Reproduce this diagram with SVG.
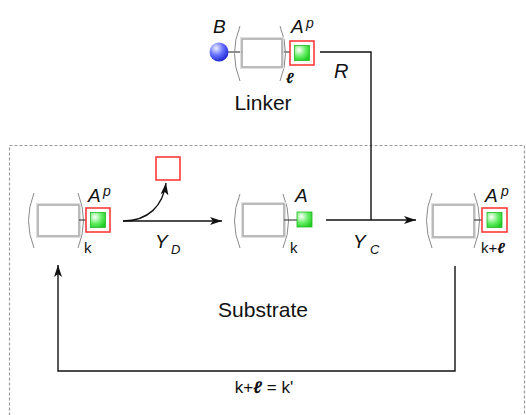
<svg xmlns="http://www.w3.org/2000/svg" width="526" height="415" viewBox="0 0 526 415">
<defs>
<radialGradient id="gg" cx="0.3" cy="0.3" r="0.8">
<stop offset="0" stop-color="#ffffff"/>
<stop offset="0.55" stop-color="#66ee66"/>
<stop offset="1" stop-color="#22cc22"/>
</radialGradient>
<radialGradient id="bg" cx="0.35" cy="0.3" r="0.75">
<stop offset="0" stop-color="#eef0ff"/>
<stop offset="0.5" stop-color="#6670ff"/>
<stop offset="1" stop-color="#1a22cc"/>
</radialGradient>
<marker id="ah" viewBox="0 0 12 8" refX="12" refY="4" markerWidth="12" markerHeight="8" markerUnits="userSpaceOnUse" orient="auto">
<path d="M0,0 L12,4 L0,8 L3,4 Z" fill="#111"/>
</marker>
<style>
.paren{fill:none;stroke:#8a8a8a;stroke-width:1}
.core{fill:#fff;stroke:#ababab;stroke-width:1.6}
.core2{fill:none;stroke:#dedede;stroke-width:1}
.bond{stroke:#444;stroke-width:1.2}
.green{fill:url(#gg);stroke:#22bb22;stroke-width:0.8}
.red{fill:#fff;stroke:#ff3a3a;stroke-width:1.6}
.ln{fill:none;stroke:#111;stroke-width:1.4}
.t{font-family:"Liberation Sans",Arial,sans-serif;fill:#111}
.it{font-style:italic}
</style>
</defs>
<rect x="9.5" y="145.5" width="515" height="280" fill="none" stroke="#9a9a9a" stroke-width="1.2" stroke-dasharray="3,2"/>

<g id="connectors">
<path class="ln" d="M320,52 H371 V220"/>
<path class="ln" d="M326,220 H416" marker-end="url(#ah)"/>
<path class="ln" d="M123,221 H222" marker-end="url(#ah)"/>
<path class="ln" d="M123,221 C148,221 163,206 166,183" marker-end="url(#ah)"/>
<path class="ln" d="M455,266 V371 H58 V265" marker-end="url(#ah)"/>
</g>

<g id="linker">
<line class="bond" x1="228" y1="52" x2="243" y2="52"/>
<line class="bond" x1="282" y1="52" x2="295" y2="52"/>
<circle cx="219" cy="52" r="9.5" fill="url(#bg)"/>
<path class="paren" d="M240,26 Q229,53.5 240,81"/>
<path class="paren" d="M280,26 Q291,53.5 280,81"/>
<rect class="core2" x="240.5" y="37.5" width="43" height="31"/>
<rect class="core" x="242" y="39" width="40" height="28"/>
<rect class="red" x="290" y="41" width="24" height="24"/>
<rect class="green" x="294.5" y="45.5" width="15" height="15"/>
<text class="t it" x="213" y="33" font-size="19">B</text>
<text class="t it" x="291" y="33" font-size="19">A</text>
<text class="t it" x="306" y="28" font-size="14">p</text>
<text class="t it" x="286" y="83" font-size="15" font-weight="bold">ℓ</text>
<text class="t" x="263" y="110" font-size="21" text-anchor="middle">Linker</text>
<text class="t it" x="334" y="78" font-size="20">R</text>
</g>

<g id="substrate-k-phos">
<path class="paren" d="M34,193 Q23,220.5 34,248"/>
<path class="paren" d="M78,193 Q89,220.5 78,248"/>
<rect class="core2" x="36.5" y="203.5" width="44" height="34"/>
<rect class="core" x="38" y="205" width="41" height="31"/>
<line class="bond" x1="79" y1="220" x2="91" y2="220"/>
<rect class="red" x="86" y="208" width="24" height="24"/>
<rect class="green" x="90.5" y="212.5" width="15" height="15"/>
<text class="t it" x="88" y="202" font-size="19">A</text>
<text class="t it" x="103" y="196" font-size="14">p</text>
<text class="t" x="84" y="253" font-size="15">k</text>
</g>

<g id="released-phosphate">
<rect class="red" x="156" y="157" width="24" height="23"/>
</g>

<g id="label-YD">
<text class="t it" x="155" y="248" font-size="19">Y</text>
<text class="t it" x="171" y="254" font-size="13">D</text>
</g>

<g id="substrate-k">
<path class="paren" d="M240,194 Q229,221 240,248"/>
<path class="paren" d="M283,194 Q294,221 283,248"/>
<rect class="core2" x="241.5" y="202.5" width="44" height="35"/>
<rect class="core" x="243" y="204" width="41" height="32"/>
<line class="bond" x1="284" y1="220" x2="297" y2="220"/>
<rect class="green" x="297" y="212" width="15" height="15"/>
<text class="t it" x="295" y="202" font-size="19">A</text>
<text class="t" x="290" y="253" font-size="15">k</text>
</g>

<g id="label-YC">
<text class="t it" x="353" y="248" font-size="19">Y</text>
<text class="t it" x="370" y="254" font-size="13">C</text>
</g>

<g id="substrate-kl">
<path class="paren" d="M432,193 Q421,220.5 432,248"/>
<path class="paren" d="M474,193 Q485,220.5 474,248"/>
<rect class="core2" x="431.5" y="203.5" width="44" height="35"/>
<rect class="core" x="433" y="205" width="41" height="32"/>
<line class="bond" x1="474" y1="220" x2="487" y2="220"/>
<rect class="red" x="482" y="208" width="25" height="24"/>
<rect class="green" x="487" y="212.5" width="15" height="15"/>
<text class="t it" x="485" y="202" font-size="19">A</text>
<text class="t it" x="501" y="196" font-size="14">p</text>
<text class="t" x="481" y="253" font-size="15">k+<tspan font-style="italic" font-weight="bold">ℓ</tspan></text>
</g>

<text class="t" x="263" y="317" font-size="21" text-anchor="middle">Substrate</text>
<text class="t" x="264" y="393" font-size="17" text-anchor="middle">k+<tspan font-style="italic" font-weight="bold">ℓ</tspan> = k'</text>
</svg>
